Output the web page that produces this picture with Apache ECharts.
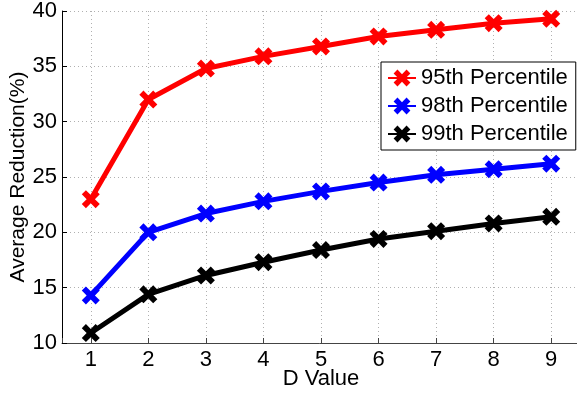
<!DOCTYPE html>
<html>
<head>
<meta charset="utf-8">
<script src="https://cdn.jsdelivr.net/npm/echarts@6/dist/echarts.min.js"></script>
<style>
  html, body { margin: 0; padding: 0; background: #fff; }
  #chart { width: 577px; height: 397px; }
</style>
</head>
<body>
<div id="chart"></div>
<script>
const dValues = [1, 2, 3, 4, 5, 6, 7, 8, 9];
const seriesNames = ["95th Percentile", "98th Percentile", "99th Percentile"];
const p95 = [23.0, 32.0, 34.8, 35.9, 36.8, 37.7, 38.3, 38.9, 39.3];
const p98 = [14.3, 20.0, 21.7, 22.8, 23.7, 24.5, 25.2, 25.7, 26.2];
const p99 = [10.9, 14.4, 16.1, 17.3, 18.4, 19.4, 20.1, 20.8, 21.4];
const yTicks = [10, 15, 20, 25, 30, 35, 40];

const colors = ["#ff0000", "#0000ff", "#000000"];
const font = "'Liberation Sans', Arial, Helvetica, sans-serif";

// thick filled "X" marker
const xMark = "path://M0,2.3L2.3,0L5,2.7L7.7,0L10,2.3L7.3,5L10,7.7L7.7,10L5,7.3L2.3,10L0,7.7L2.7,5Z";

const chart = echarts.init(document.getElementById("chart"), null, { renderer: "canvas" });

function makeSeries(name, vals, color) {
  return {
    name,
    type: "line",
    data: dValues.map((d, i) => [d, vals[i]]),
    symbol: xMark,
    symbolSize: 18,
    showAllSymbol: true,
    lineStyle: { color, width: 5 },
    itemStyle: { color },
    animation: false,
    z: 3,
  };
}

const gridLine = { show: true, lineStyle: { color: "#b0b0b0", width: 1, type: [1, 3] } };

chart.setOption({
  backgroundColor: "#fff",
  animation: false,
  grid: { left: 62, right: -3, top: 11, bottom: 54, containLabel: false, outerBoundsMode: "none" },
  xAxis: {
    type: "value",
    min: 0.5,
    max: 9.5,
    minInterval: 1,
    maxInterval: 1,
    name: "D Value",
    nameLocation: "middle",
    nameGap: 25,
    nameMoveOverlap: false,
    nameTextStyle: { fontFamily: font, fontSize: 22, color: "#000" },
    axisLine: { show: true, onZero: false, lineStyle: { color: "#444", width: 1 } },
    axisTick: { show: true, inside: true, length: 5, lineStyle: { color: "#444" } },
    axisLabel: {
      fontFamily: font, fontSize: 22, color: "#000", margin: 6,
      formatter: (v) => (Number.isInteger(v) ? String(v) : ""),
    },
    splitLine: gridLine,
  },
  yAxis: {
    type: "value",
    min: yTicks[0],
    max: yTicks[yTicks.length - 1],
    interval: 5,
    name: "Average Reduction(%)",
    nameLocation: "middle",
    nameGap: 33,
    nameMoveOverlap: false,
    nameTextStyle: { fontFamily: font, fontSize: 21, color: "#000" },
    axisLine: { show: true, lineStyle: { color: "#000", width: 1 } },
    axisTick: { show: true, inside: true, length: 5, lineStyle: { color: "#000" } },
    axisLabel: { fontFamily: font, fontSize: 22, color: "#000", margin: 5 },
    splitLine: gridLine,
  },
  legend: {
    data: seriesNames,
    orient: "vertical",
    left: 381,
    top: 62,
    padding: [5, 8, 5, 6],
    itemWidth: 28,
    itemHeight: 21,
    itemGap: 6,
    backgroundColor: "#fff",
    borderColor: "#000",
    borderWidth: 1,
    borderRadius: 0,
    textStyle: { fontFamily: font, fontSize: 22, color: "#000" },
  },
  series: [
    makeSeries(seriesNames[0], p95, colors[0]),
    makeSeries(seriesNames[1], p98, colors[1]),
    makeSeries(seriesNames[2], p99, colors[2]),
  ],
});

window.addEventListener("resize", () => chart.resize());
</script>
</body>
</html>
